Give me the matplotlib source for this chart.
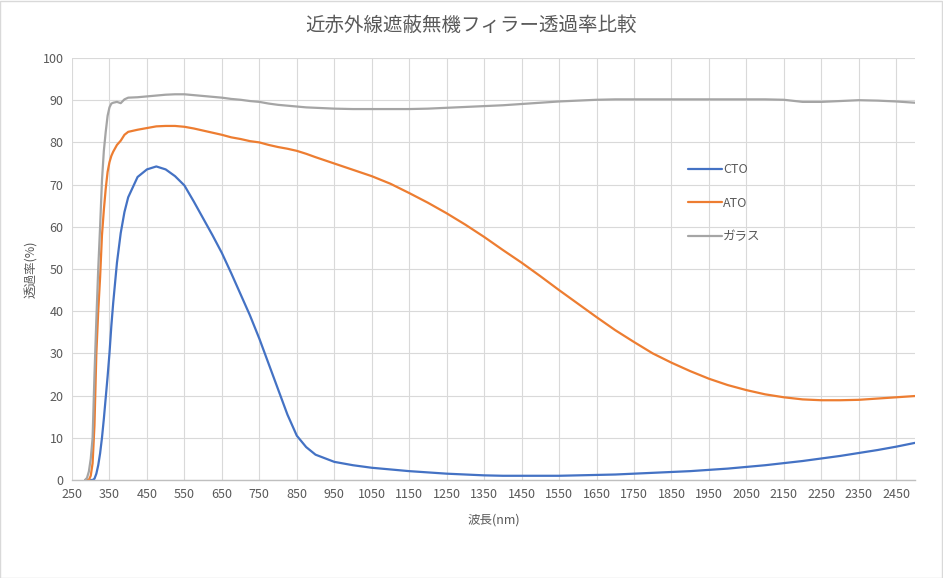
import matplotlib
matplotlib.use("Agg")
import matplotlib.pyplot as plt
from matplotlib.patches import Rectangle

plt.rcParams['font.family'] = ['Noto Sans CJK JP', 'DejaVu Sans']

title = "近赤外線遮蔽無機フィラー透過率比較"
xlabel = "波長(nm)"
ylabel = "透過率(%)"
series_names = ["CTO", "ATO", "ガラス"]

wavelength = [285, 290, 295, 300, 305, 310, 315, 320, 325, 330, 335, 340, 345, 350, 355, 360,
              370, 380, 390, 400, 425, 450, 475, 500, 525, 550, 575, 600, 625, 650, 675, 700,
              725, 750, 775, 800, 825, 850, 875, 900, 950, 1000, 1050, 1100, 1150, 1200, 1250,
              1300, 1350, 1400, 1450, 1500, 1550, 1600, 1650, 1700, 1750, 1800, 1850, 1900,
              1950, 2000, 2050, 2100, 2150, 2200, 2250, 2300, 2350, 2400, 2450, 2500]

cto = [0, 0, 0, 0, 0, 0.3, 1.5, 3.5, 6.3, 10, 14.5, 19.5, 24.5, 30, 36.5, 42,
       51.5, 58.5, 63.5, 67, 71.8, 73.6, 74.3, 73.6, 72.0, 69.8, 66.0, 62.0, 58.0, 53.8, 49.0, 44.0,
       39.0, 33.5, 27.5, 21.5, 15.5, 10.5, 7.8, 6.0, 4.3, 3.5, 2.9, 2.5, 2.1, 1.8, 1.5,
       1.3, 1.1, 1.0, 1.0, 1.0, 1.0, 1.1, 1.2, 1.3, 1.5, 1.7, 1.9, 2.1,
       2.4, 2.7, 3.1, 3.5, 4.0, 4.5, 5.1, 5.7, 6.4, 7.1, 7.9, 8.8]

ato = [0, 0, 0, 1, 4, 13, 30, 40, 48, 58, 64, 69, 73, 75.3, 76.8, 77.8,
       79.4, 80.4, 81.8, 82.5, 83.0, 83.4, 83.8, 83.9, 83.9, 83.7, 83.3, 82.8, 82.3, 81.8, 81.2, 80.8,
       80.3, 80.0, 79.4, 78.9, 78.5, 78.0, 77.3, 76.5, 75.0, 73.5, 72.0, 70.2, 68.0, 65.7, 63.2,
       60.5, 57.6, 54.5, 51.5, 48.3, 45.0, 41.8, 38.6, 35.5, 32.7, 30.0, 27.8, 25.8,
       24.0, 22.5, 21.3, 20.3, 19.6, 19.1, 18.9, 18.9, 19.0, 19.3, 19.6, 19.9]

glass = [0, 0.5, 2, 5, 10, 25, 38, 50, 60, 71, 78, 82.5, 86.3, 88.3, 89.2, 89.4,
         89.6, 89.3, 90.2, 90.6, 90.7, 90.9, 91.1, 91.3, 91.4, 91.4, 91.2, 91.0, 90.8, 90.6, 90.3, 90.1,
         89.8, 89.6, 89.2, 88.9, 88.7, 88.5, 88.3, 88.2, 88.0, 87.9, 87.9, 87.9, 87.9, 88.0, 88.2,
         88.4, 88.6, 88.8, 89.1, 89.4, 89.7, 89.9, 90.1, 90.2, 90.2, 90.2, 90.2, 90.2,
         90.2, 90.2, 90.2, 90.2, 90.1, 89.6, 89.6, 89.8, 90.0, 89.9, 89.7, 89.4]

xticks = list(range(250, 2451, 100))
yticks = list(range(0, 101, 10))
colors = ["#4472C4", "#ED7D31", "#A5A5A5"]

fig = plt.figure(figsize=(9.43, 5.78), dpi=100)
ax = fig.add_axes([72 / 943, 1 - 480 / 578, (915 - 72) / 943, (480 - 58) / 578])

for vals, name, c in zip([cto, ato, glass], series_names, colors):
    ax.plot(wavelength, vals, color=c, lw=1.6, label=name, solid_capstyle='round')

ax.set_xlim(250, 2500)
ax.set_ylim(0, 100)
ax.set_xticks(xticks)
ax.set_yticks(yticks)
ax.grid(True, color="#D9D9D9", lw=0.8)
ax.set_axisbelow(True)
for s in ["top", "right", "left"]:
    ax.spines[s].set_visible(False)
ax.spines["bottom"].set_color("#BFBFBF")
ax.spines["bottom"].set_linewidth(1.0)
ax.tick_params(axis='both', length=0, labelsize=9, colors="#595959", pad=6)

ax.set_xlabel(xlabel, fontsize=9, color="#595959", labelpad=9)
ax.set_ylabel(ylabel, fontsize=9, color="#595959", labelpad=3)
fig.suptitle(title, x=0.5, y=0.975, fontsize=14, color="#595959")

leg = ax.legend(loc="upper left", bbox_to_anchor=((683 - 72) / (915 - 72), 1 - (158 - 58) / (480 - 58)),
                frameon=False, fontsize=9, handlelength=2.7, labelspacing=1.65,
                handletextpad=0.1, borderaxespad=0)
for t in leg.get_texts():
    t.set_color("#595959")

fig.patches.append(Rectangle((0.0005, 0.0008), 0.998, 0.998, transform=fig.transFigure,
                             fill=False, edgecolor="#D9D9D9", lw=1))

fig.savefig("out.png", dpi=100)
